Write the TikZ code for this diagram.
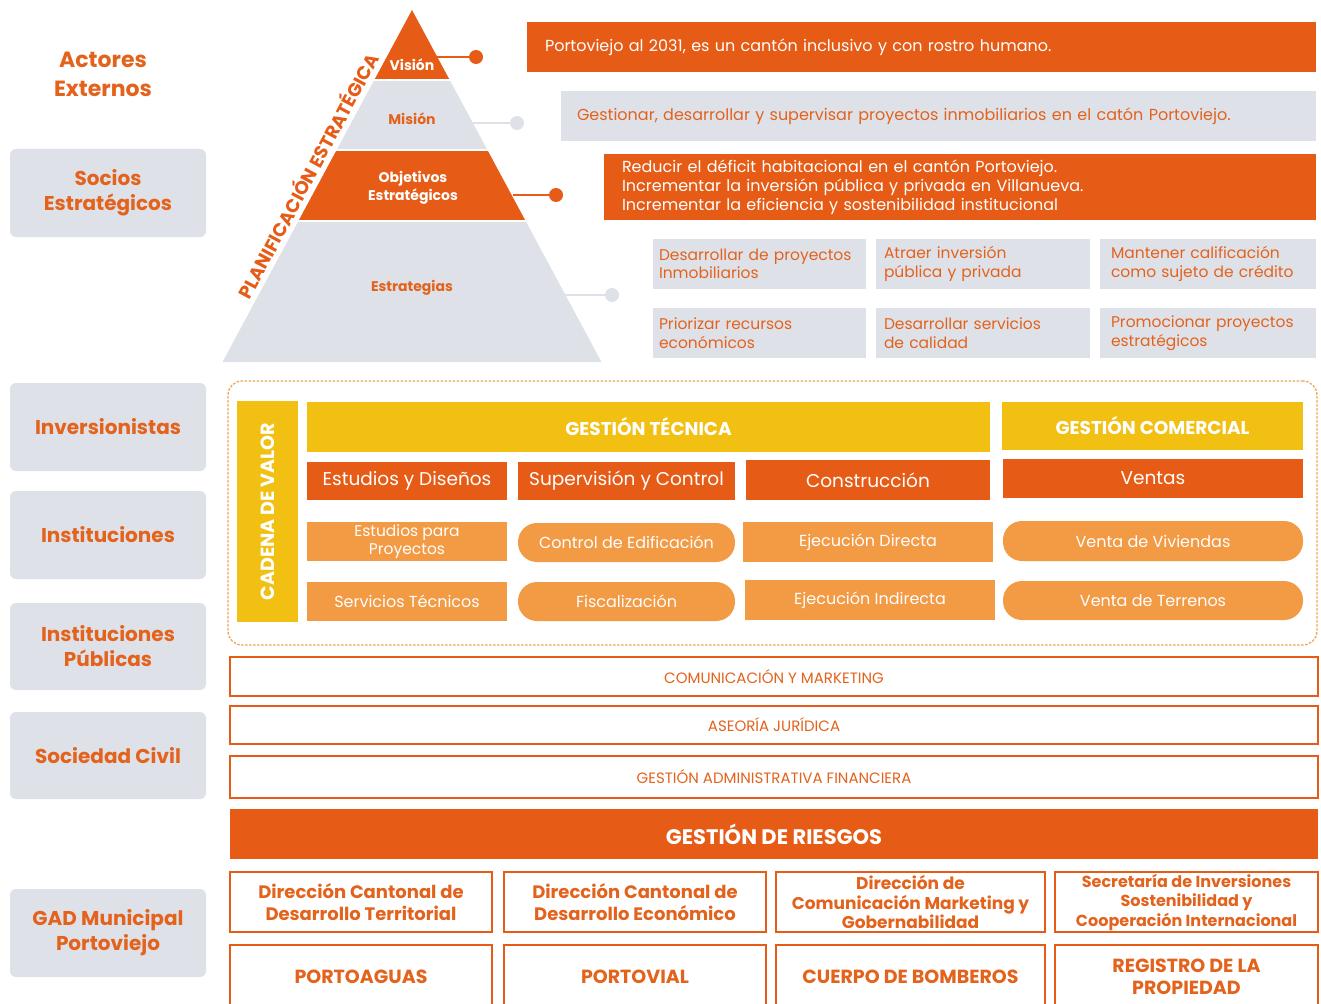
\documentclass[tikz,border=0pt]{standalone}
\usepackage{fontspec}
\setmainfont{Poppins}
\definecolor{org}{HTML}{E65C17}
\definecolor{lorg}{HTML}{F39A45}
\definecolor{ylw}{HTML}{F2C013}
\definecolor{gry}{HTML}{DFE1E8}
\definecolor{txto}{HTML}{E3621C}
\definecolor{dsh}{HTML}{F0A556}
\newcommand\bx[7]{%
  \pgfmathsetmacro\bxw{#5-#3}\pgfmathsetmacro\bxh{#6-#4}%
  \pgfmathsetmacro\bxx{(#3+#5)/2}\pgfmathsetmacro\bxy{(#4+#6)/2}%
  \node[#2, minimum width=\bxw pt, minimum height=\bxh pt] (#1) at (\bxx,\bxy) {#7};}
\begin{document}
\begin{tikzpicture}[x=1pt,y=-1pt,
  base/.style={inner sep=0pt, outer sep=0pt, align=center},
  gbox/.style={base, fill=gry, rounded corners=6pt, text=txto, font=\bfseries\fontsize{20}{25}\selectfont},
  plab/.style={base, font=\bfseries\fontsize{14}{17.5}\selectfont},
  obig/.style={base, fill=org, text=white, font=\fontsize{16}{19}\selectfont},
  gbig/.style={base, fill=gry, text=txto, font=\fontsize{16}{19}\selectfont},
  sbox/.style={base, fill=gry, text=txto, font=\fontsize{15.5}{18.5}\selectfont, execute at begin node={\hyphenpenalty=10000\relax}},
  ybox/.style={base, fill=ylw, text=white, font=\bfseries\fontsize{18.5}{22}\selectfont},
  obox/.style={base, fill=org, text=white, font=\fontsize{18.5}{22}\selectfont},
  lbox/.style={base, fill=lorg, text=white, font=\fontsize{16}{19}\selectfont},
  pill/.style={lbox, rounded corners=19pt},
  band/.style={base, draw=org, line width=1.5pt, fill=white, text=txto, font=\fontsize{15}{18}\selectfont},
  bbox/.style={base, draw=org, line width=1.5pt, fill=white, text=txto, font=\bfseries\fontsize{18}{22}\selectfont},
  odot/.style={circle, fill=org, minimum size=14pt, inner sep=0pt},
  gdot/.style={circle, fill=gry, minimum size=14pt, inner sep=0pt},
]
\useasboundingbox (0,0) rectangle (1321,1003);
\fill[white] (0,0) rectangle (1321,1003);

% ---------- left column ----------
\node[base, text=txto, font=\bfseries\fontsize{22}{29}\selectfont] (act) at (103,74) {Actores\\Externos};
\bx{socios}{gbox}{10}{149}{206}{237}{Socios\\Estratégicos}
\bx{inv}{gbox}{10}{383}{206}{471}{Inversionistas}
\bx{inst}{gbox}{10}{491}{206}{579}{Instituciones}
\bx{instp}{gbox}{10}{603}{206}{690}{Instituciones\\Públicas}
\bx{soc}{gbox}{10}{712}{206}{799}{Sociedad Civil}
\bx{gad}{gbox}{10}{889}{206}{977}{GAD Municipal\\Portoviejo}

% ---------- pyramid ----------
\fill[org] (412,10) -- (449.7,80) -- (374.3,80) -- cycle;
\fill[gry] (374.3,80) -- (449.7,80) -- (487.4,150) -- (336.6,150) -- cycle;
\fill[org] (336.6,150) -- (487.4,150) -- (525.6,221) -- (298.4,221) -- cycle;
\fill[gry] (298.4,221) -- (525.6,221) -- (601.5,362) -- (222.5,362) -- cycle;
\draw[white, line width=1.5pt] (370,80) -- (454,80) (332,150) -- (492,150) (294,221) -- (530,221);
\node[plab, text=white] (vis) at (412,65) {Visión};
\node[plab, text=txto] (mis) at (412,119) {Misión};
\node[plab, text=white] (obj) at (413,188) {Objetivos\\Estratégicos};
\node[plab, text=txto] (est) at (412,288) {Estrategias};
\node[base, text=org, rotate=61.7, font=\bfseries\fontsize{18.5}{22}\selectfont] (plan) at (307,175) {PLANIFICACIÓN ESTRATÉGICA};

\coordinate (visE) at (437,57);
\coordinate (misE) at (473,123);
\coordinate (objE) at (513,195);
\coordinate (estE) at (565,295);
\node[odot] (visD) at (476,57) {};
\node[gdot] (misD) at (517,123) {};
\node[odot] (objD) at (556,195) {};
\node[gdot] (estD) at (612,295) {};
\draw[org, line width=1.8pt] (visE) -- (visD);
\draw[gry, line width=1.8pt] (misE) -- (misD);
\draw[org, line width=1.8pt] (objE) -- (objD);
\draw[gry, line width=1.8pt] (estE) -- (estD);

% ---------- statements ----------
\bx{vist}{obig, text width=753pt, align=left}{527}{22}{1316}{72}{Portoviejo al 2031, es un cantón inclusivo y con rostro humano.}
\bx{mist}{gbig, text width=723pt, align=left}{561}{91}{1316}{141}{Gestionar, desarrollar y supervisar proyectos inmobiliarios en el catón Portoviejo.}
\bx{objt}{obig, text width=676pt, align=left}{604}{154}{1316}{220}{Reducir el déficit habitacional en el cantón Portoviejo.\\Incrementar la inversión pública y privada en Villanueva.\\Incrementar la eficiencia y sostenibilidad institucional}

\bx{s1}{sbox, text width=201pt, align=left}{653}{239}{866}{289}{Desarrollar de proyectos\\Inmobiliarios}
\bx{s2}{sbox, text width=198pt, align=left}{876}{239}{1090}{289}{Atraer inversión\\pública y privada}
\bx{s3}{sbox, text width=194pt, align=left}{1100}{239}{1316}{289}{Mantener calificación\\como sujeto de crédito}
\bx{s4}{sbox, text width=201pt, align=left}{653}{308}{866}{358}{Priorizar recursos\\económicos}
\bx{s5}{sbox, text width=198pt, align=left}{876}{308}{1090}{358}{Desarrollar servicios\\de calidad}
\bx{s6}{sbox, text width=194pt, align=left}{1100}{308}{1316}{358}{Promocionar proyectos\\estratégicos}

% ---------- value chain ----------
\bx{chain}{base, draw=dsh, line width=1.3pt, dash pattern=on 2.5pt off 1.5pt, rounded corners=14pt}{228}{381}{1317}{645}{}
\bx{cad}{ybox}{237}{401}{298}{622}{}
\node[base, rotate=90, text=white, font=\bfseries\fontsize{19}{22}\selectfont] (cadt) at (cad.center) {CADENA DE VALOR};
\bx{gt}{ybox}{307}{402}{990}{452}{GESTIÓN TÉCNICA}
\bx{gc}{ybox}{1002}{402}{1303}{450}{GESTIÓN COMERCIAL}

\bx{ed}{obox}{307}{462}{507}{500}{Estudios y Diseños}
\bx{sc}{obox}{518}{462}{735}{500}{Supervisión y Control}
\bx{co}{obox}{746}{460}{990}{500}{Construcción}
\bx{ve}{obox}{1003}{459}{1303}{498}{Ventas}

\bx{ep}{lbox, font=\fontsize{15.5}{18.5}\selectfont}{307}{522}{507}{561}{Estudios para\\Proyectos}
\bx{ce}{pill}{518}{523}{735}{562}{Control de Edificación}
\bx{ej}{lbox}{743}{522}{993}{562}{Ejecución Directa}
\bx{vv}{pill}{1003}{521}{1303}{561}{Venta de Viviendas}

\bx{st}{lbox}{307}{582}{507}{621}{Servicios Técnicos}
\bx{fi}{pill}{518}{582}{735}{621}{Fiscalización}
\bx{ei}{lbox}{745}{580}{995}{620}{Ejecución Indirecta}
\bx{vt}{pill}{1003}{581}{1303}{620}{Venta de Terrenos}

% ---------- bands ----------
\bx{com}{band}{230}{657}{1318}{696}{COMUNICACIÓN Y MARKETING}
\bx{jur}{band}{230}{706}{1318}{744}{ASEORÍA JURÍDICA}
\bx{adm}{band}{230}{756}{1318}{798}{GESTIÓN ADMINISTRATIVA FINANCIERA}
\bx{rie}{base, fill=org, text=white, font=\bfseries\fontsize{21}{25}\selectfont}{230}{809}{1318}{859}{GESTIÓN DE RIESGOS}

% ---------- bottom ----------
\bx{b1}{bbox}{230}{872}{492}{932}{Dirección Cantonal de\\Desarrollo Territorial}
\bx{b2}{bbox}{504}{872}{766}{932}{Dirección Cantonal de\\Desarrollo Económico}
\bx{b3}{bbox, font=\bfseries\fontsize{17}{19.5}\selectfont}{776}{872}{1045}{932}{Dirección de\\Comunicación Marketing y\\Gobernabilidad}
\bx{b4}{bbox, font=\bfseries\fontsize{16}{19.5}\selectfont}{1055}{872}{1318}{932}{Secretaría de Inversiones\\Sostenibilidad y\\Cooperación Internacional}

\bx{c1}{bbox, font=\bfseries\fontsize{19}{22}\selectfont}{230}{945}{492}{1008}{PORTOAGUAS}
\bx{c2}{bbox, font=\bfseries\fontsize{19}{22}\selectfont}{504}{945}{766}{1008}{PORTOVIAL}
\bx{c3}{bbox, font=\bfseries\fontsize{19}{22}\selectfont}{776}{945}{1045}{1008}{CUERPO DE BOMBEROS}
\bx{c4}{bbox, font=\bfseries\fontsize{19}{22}\selectfont}{1055}{945}{1318}{1008}{REGISTRO DE LA\\PROPIEDAD}
\end{tikzpicture}
\end{document}
